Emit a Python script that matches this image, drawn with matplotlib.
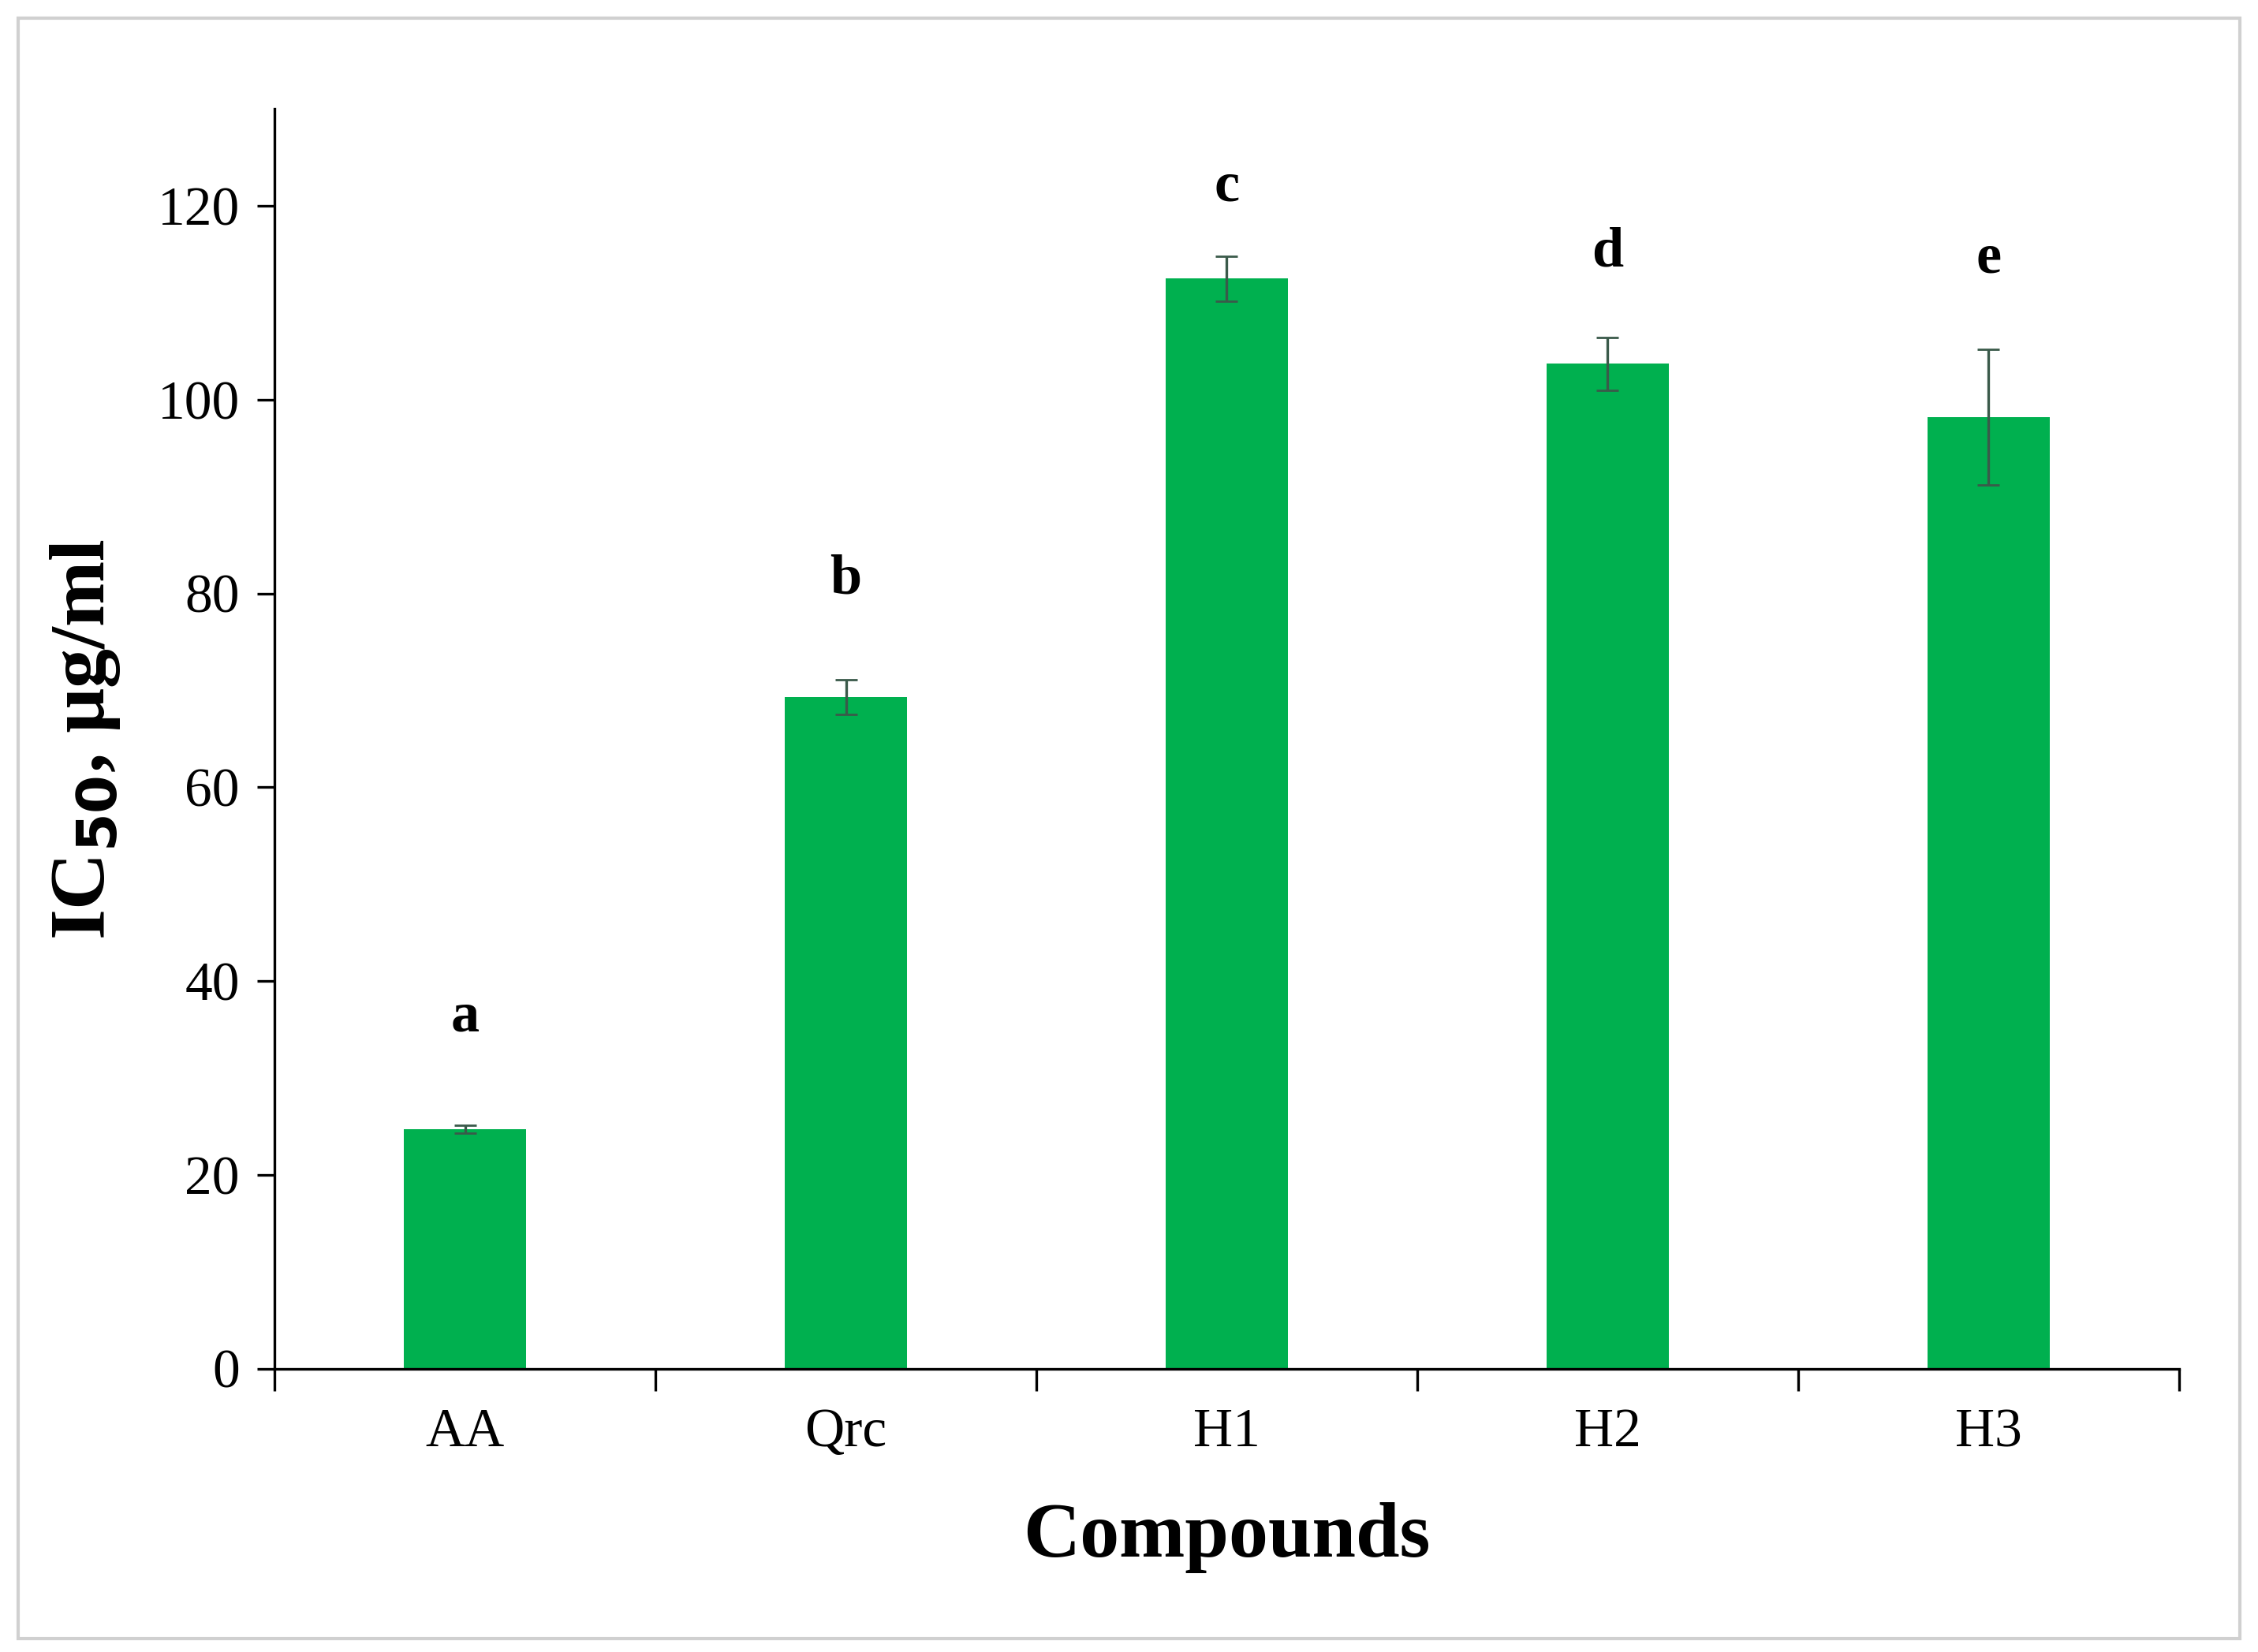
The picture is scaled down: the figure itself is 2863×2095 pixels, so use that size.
import matplotlib
matplotlib.use("Agg")
import matplotlib.pyplot as plt
from matplotlib.patches import Rectangle
import numpy as np

compounds = ["AA", "Qrc", "H1", "H2", "H3"]
ic50 = [24.7, 69.3, 112.5, 103.7, 98.2]
err = [0.4, 1.8, 2.3, 2.7, 7.0]
letters = ["a", "b", "c", "d", "e"]
letter_y = [36.3, 81.4, 122.0, 115.2, 114.6]

plt.rcParams["font.family"] = ["Liberation Serif", "DejaVu Serif"]
green = "#00b04f"

fig = plt.figure(figsize=(14.315, 10.475), dpi=200)
fig.patches.append(Rectangle((0.008, 0.008), 0.984, 0.981, transform=fig.transFigure,
                             fill=False, edgecolor="#d0d0d0", linewidth=1.5))
ax = fig.add_axes([0.1216, 0.1715, 0.8434, 0.7625])

x = np.arange(len(compounds))
ax.bar(x, ic50, width=0.32, color=green, zorder=2)
ax.errorbar(x, ic50, yerr=err, fmt="none", ecolor="#3a5a4a", elinewidth=1.2, capsize=5, zorder=3)
for xi, l, ly in zip(x, letters, letter_y):
    ax.text(xi, ly, l, ha="center", va="center", fontsize=26, fontweight="bold")

ax.set_xlim(-0.5, len(compounds) - 0.5)
ax.set_ylim(0, 130)
ax.set_yticks(range(0, 121, 20))
ax.set_xticks(x)
ax.set_xticklabels(compounds)
ax.set_xticks(np.arange(-0.5, len(compounds), 1), minor=True)
ax.tick_params(axis="x", which="major", length=0, pad=18, labelsize=25)
ax.tick_params(axis="x", which="minor", length=10, width=1.2, direction="out")
ax.tick_params(axis="y", length=8, width=1.2, direction="out", labelsize=25, pad=8)
for s in ["top", "right"]:
    ax.spines[s].set_visible(False)
for s in ["left", "bottom"]:
    ax.spines[s].set_linewidth(1.2)

ax.set_xlabel("Compounds", fontsize=36, fontweight="bold", labelpad=20)
ax.set_ylabel(r"IC$_{\mathbf{50}}$, µg/ml", fontsize=36, fontweight="bold", labelpad=16)

fig.savefig("out.png", dpi=200)
